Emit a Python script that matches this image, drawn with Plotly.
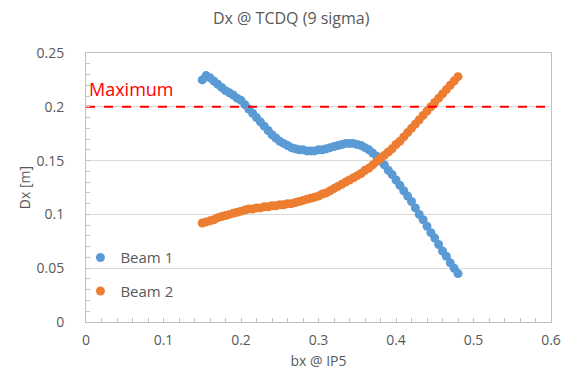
import plotly.graph_objects as go

bx = [0.150, 0.155, 0.160, 0.165, 0.170, 0.175, 0.180, 0.185, 0.190, 0.195,
      0.200, 0.205, 0.210, 0.215, 0.220, 0.225, 0.230, 0.235, 0.240, 0.245,
      0.250, 0.255, 0.260, 0.265, 0.270, 0.275, 0.280, 0.285, 0.290, 0.295,
      0.300, 0.305, 0.310, 0.315, 0.320, 0.325, 0.330, 0.335, 0.340, 0.345,
      0.350, 0.355, 0.360, 0.365, 0.370, 0.375, 0.380, 0.385, 0.390, 0.395,
      0.400, 0.405, 0.410, 0.415, 0.420, 0.425, 0.430, 0.435, 0.440, 0.445,
      0.450, 0.455, 0.460, 0.465, 0.470, 0.475, 0.480]

beam1 = [0.225, 0.229, 0.227, 0.224, 0.221, 0.218, 0.215, 0.213, 0.211, 0.208,
         0.206, 0.202, 0.198, 0.194, 0.190, 0.186, 0.182, 0.178, 0.174, 0.171,
         0.168, 0.166, 0.164, 0.162, 0.161, 0.160, 0.160, 0.159, 0.159, 0.159,
         0.160, 0.160, 0.161, 0.162, 0.163, 0.164, 0.165, 0.166, 0.166, 0.166,
         0.165, 0.164, 0.162, 0.160, 0.157, 0.154, 0.150, 0.146, 0.141, 0.137,
         0.132, 0.127, 0.122, 0.117, 0.112, 0.106, 0.100, 0.095, 0.089, 0.083,
         0.078, 0.072, 0.066, 0.061, 0.055, 0.050, 0.045]

beam2 = [0.092, 0.093, 0.094, 0.095, 0.097, 0.098, 0.099, 0.100, 0.101, 0.102,
         0.103, 0.104, 0.105, 0.105, 0.106, 0.106, 0.107, 0.107, 0.108, 0.108,
         0.109, 0.109, 0.110, 0.110, 0.111, 0.112, 0.113, 0.114, 0.115, 0.116,
         0.117, 0.119, 0.120, 0.122, 0.124, 0.126, 0.128, 0.130, 0.132, 0.134,
         0.136, 0.138, 0.141, 0.143, 0.146, 0.149, 0.152, 0.155, 0.158, 0.161,
         0.165, 0.168, 0.172, 0.176, 0.180, 0.184, 0.188, 0.192, 0.196, 0.200,
         0.204, 0.208, 0.212, 0.216, 0.220, 0.224, 0.228]

x_ticks = [0, 0.1, 0.2, 0.3, 0.4, 0.5, 0.6]
x_labels = ["0", "0.1", "0.2", "0.3", "0.4", "0.5", "0.6"]
y_ticks = [0, 0.05, 0.1, 0.15, 0.2, 0.25]
y_labels = ["0", "0.05", "0.1", "0.15", "0.2", "0.25"]

maximum = 0.2
x_range = [0, 0.6]
y_range = [0, 0.25]

FONT = "Open Sans"
GRAY = "#595959"

fig = go.Figure()
fig.add_trace(go.Scatter(x=bx, y=beam1, mode="markers", name="Beam 1",
                         legendgroup="b1",
                         marker=dict(color="#5B9BD5", size=9)))
fig.add_trace(go.Scatter(x=bx, y=beam2, mode="markers", name="Beam 2",
                         legendgroup="b2",
                         marker=dict(color="#ED7D31", size=9)))
fig.add_trace(go.Scatter(x=x_range, y=[maximum, maximum], mode="lines",
                         showlegend=False, hoverinfo="skip",
                         line=dict(color="#FF0000", width=2, dash="dash")))

fig.add_annotation(x=0, y=0.217, xref="x", yref="y", text="Maximum",
                   showarrow=False, xanchor="left", yanchor="middle",
                   xshift=1, font=dict(family=FONT, size=18, color="#FF0000"))

fig.update_layout(
    width=571, height=382,
    margin=dict(l=86, r=20, t=53, b=60, autoexpand=False),
    paper_bgcolor="white", plot_bgcolor="white",
    font=dict(family=FONT, color=GRAY, size=14),
    title=dict(text="Dx @ TCDQ (9 sigma)", x=0.51, xanchor="center",
               y=0.952, yanchor="middle",
               font=dict(family=FONT, size=16, color=GRAY)),
    legend=dict(x=-0.012, y=0.3, xanchor="left", yanchor="top",
                bgcolor="rgba(0,0,0,0)", font=dict(family=FONT, size=15, color=GRAY),
                itemwidth=30, tracegroupgap=11),
    showlegend=True,
)

fig.update_xaxes(
    range=x_range, tickvals=x_ticks, ticktext=x_labels,
    showgrid=False, zeroline=False,
    showline=True, linecolor="#BFBFBF", linewidth=1, mirror=True,
    ticks="inside", ticklen=4, tickcolor="#BFBFBF",
    minor=dict(dtick=0.02, ticks="inside", ticklen=4, tickcolor="#BFBFBF"),
    ticklabelstandoff=5,
    title=dict(text="bx @ IP5", font=dict(family=FONT, size=14, color=GRAY), standoff=8),
)
fig.update_yaxes(
    range=y_range, tickvals=y_ticks, ticktext=y_labels,
    showgrid=True, gridcolor="#D9D9D9", gridwidth=1, zeroline=False,
    showline=True, linecolor="#BFBFBF", linewidth=1, mirror=True,
    ticks="inside", ticklen=4, tickcolor="#BFBFBF",
    minor=dict(dtick=0.01, ticks="inside", ticklen=4, tickcolor="#BFBFBF"),
    ticklabelstandoff=18,
    title=dict(text="Dx [m]", font=dict(family=FONT, size=14, color=GRAY), standoff=2),
)

fig.write_html("out.html")
